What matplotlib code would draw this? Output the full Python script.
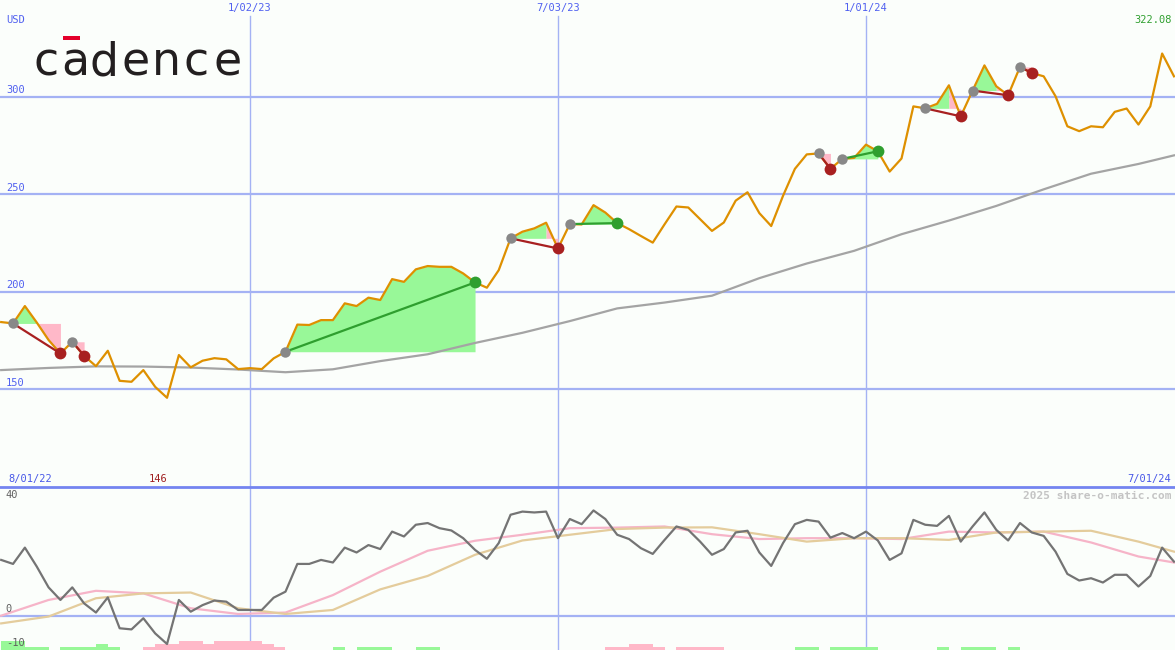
import numpy as np
import pandas as pd
import matplotlib
matplotlib.use('Agg')
import matplotlib.pyplot as plt
import matplotlib.dates as mdates
from matplotlib.lines import Line2D
from matplotlib.patches import Rectangle

# Недельные цены закрытия, с 8/08/22 по 7/01/24
close = [184.5, 183.8, 192.7, 184.3, 175.3, 168.4, 174.4, 167.2, 161.9, 169.8,
         154.4, 153.9, 159.9, 151.3, 145.7, 167.6, 161.3, 164.7, 166.0, 165.4,
         160.4, 160.9, 160.4, 165.9, 169.3, 183.2, 183.0, 185.5, 185.5, 194.1,
         192.7, 197.0, 195.8, 206.5, 205.1, 211.5, 213.2, 212.8, 212.8, 209.4,
         204.8, 202.1, 211.1, 227.4, 230.8, 232.5, 235.4, 222.2, 234.7, 234.5,
         244.4, 240.6, 235.2, 232.1, 228.6, 225.2, 234.6, 243.7, 243.2, 237.2,
         231.2, 235.5, 246.7, 251.0, 240.3, 233.7, 249.2, 263.0, 270.4, 270.9,
         263.0, 268.1, 268.6, 275.4, 272.0, 261.6, 268.3, 295.0, 294.0, 296.3,
         305.8, 289.9, 303.1, 316.0, 305.3, 300.7, 315.2, 312.1, 310.4, 300.2,
         284.8, 282.3, 284.8, 284.3, 292.2, 293.9, 285.7, 295.0, 322.08, 310.4]

# Длинная скользящая средняя (снята через каждые 4 недели + последняя точка)
ma_weeks = list(range(0, 100, 4)) + [99]
ma_long = [159.9, 161.0, 161.8, 161.7, 161.2, 160.2, 158.8, 160.3, 164.5, 168.0,
           173.8, 179.0, 185.0, 191.5, 194.5, 198.0, 207.0, 214.5, 221.0, 229.5,
           236.5, 244.0, 252.5, 260.5, 265.5, 269.9]

# Сделки: неделя входа и неделя выхода
trade_in = [1, 6, 24, 43, 48, 69, 71, 78, 82, 86]
trade_out = [5, 7, 40, 47, 52, 70, 74, 81, 85, 87]

# Нижняя панель: осциллятор и его сглаживания
osc = [19.5, 18.1, 23.8, 17.2, 9.9, 5.5, 9.9, 4.3, 1.1, 6.4,
       -4.4, -4.8, -0.9, -6.2, -9.9, 5.5, 1.4, 3.7, 5.3, 4.9,
       2.0, 2.0, 2.0, 6.3, 8.4, 18.1, 18.1, 19.5, 18.6, 23.8,
       22.1, 24.7, 23.3, 29.4, 27.7, 31.8, 32.4, 30.6, 29.8, 27.1,
       23.0, 19.9, 25.4, 35.3, 36.4, 36.1, 36.4, 27.1, 33.8, 32.0,
       36.8, 33.8, 28.3, 26.8, 23.6, 21.6, 26.5, 31.2, 30.0, 25.9,
       21.3, 23.3, 29.1, 29.7, 22.1, 17.4, 25.4, 32.0, 33.5, 32.9,
       27.3, 28.9, 27.1, 29.4, 26.3, 19.5, 21.8, 33.5, 31.8, 31.4,
       34.9, 25.9, 31.2, 36.1, 30.0, 26.3, 32.4, 29.1, 27.9, 22.4,
       14.6, 12.3, 13.1, 11.6, 14.3, 14.3, 10.2, 13.9, 23.8, 18.9]
osc_fast = [0.0, 5.5, 8.7, 7.8, 2.6, 0.6, 1.1, 7.2, 15.4, 22.7,
            26.2, 28.3, 30.6, 30.8, 31.2, 28.5, 26.8, 27.1, 27.1, 26.8,
            29.4, 29.1, 29.4, 25.6, 20.7, 18.6]
osc_slow = [-2.7, -0.3, 6.1, 7.8, 8.1, 2.6, 0.6, 2.0, 9.2, 13.9,
            21.3, 26.3, 28.3, 30.3, 30.8, 30.9, 28.5, 25.9, 27.1, 27.1,
            26.5, 29.1, 29.4, 29.7, 25.9, 22.4]

# Сигнальные столбики внизу (знак = цвет, модуль = высота)
signal = [3, 3, 1, 1, 0, 1, 1, 1, 2, 1,
          0, 0, -1, -2, -2, -3, -3, -2, -3, -3,
          -3, -3, -2, -1, 0, 0, 0, 0, 1, 0,
          1, 1, 1, 0, 0, 1, 1, 0, 0, 0,
          0, 0, 0, 0, 0, 0, 0, 0, 0, 0,
          0, -1, -1, -2, -2, -1, 0, -1, -1, -1,
          -1, 0, 0, 0, 0, 0, 0, 1, 1, 0,
          1, 1, 1, 1, 0, 0, 0, 0, 0, 1,
          0, 1, 1, 1, 0, 1, 0, 0, 0, 0,
          0, 0, 0, 0, 0, 0, 0, 0, 0, 0]

price_levels = [150, 200, 250, 300]
date_marks = ['2023-01-02', '2023-07-03', '2024-01-01']
date_labels = ['1/02/23', '7/03/23', '1/01/24']

# Цвета
BG = '#fbfefb'
BLUE_TXT = '#5060f0'
GRID = '#a4b2f4'
ORANGE = '#de9000'
GREEN_FILL = '#98f898'
PINK_FILL = '#ffb8c8'
LOSS = '#a82020'
WIN = '#2f9f2f'

weeks = pd.date_range('2022-08-08', periods=len(close), freq='7D')
xn = mdates.date2num(weeks)
price = np.array(close)
mono = 'DejaVu Sans Mono'

fig = plt.figure(figsize=(11.75, 6.5), dpi=100, facecolor=BG)
ax = fig.add_axes([0, 163 / 650, 1, 487 / 650], facecolor=BG)
ax2 = fig.add_axes([0, 0, 1, 163 / 650], facecolor=BG)

for a in (ax, ax2):
    a.set_xlim(xn[0] - 0.7, xn[-1] + 0.6)
    a.set_xticks([])
    a.set_yticks([])
    for s in a.spines.values():
        s.set_visible(False)
ax.set_ylim(100, 349.5)
ax2.set_ylim(-12, 45)

# Сетка верхней панели
for lv in price_levels:
    ax.axhline(lv, color=GRID, lw=1.6, zorder=1)
    ax.text(0.005, lv + 0.8, str(lv), transform=ax.get_yaxis_transform(),
            color=BLUE_TXT, fontsize=7.5, family=mono, va='bottom', ha='left')
for d, lab in zip(date_marks, date_labels):
    dn = mdates.date2num(pd.Timestamp(d))
    ax.axvline(dn, ymax=1 - 16 / 487, color=GRID, lw=1, zorder=1)
    ax2.axvline(dn, color=GRID, lw=1, zorder=1)
    ax.text(dn, 1 - 8 / 487, lab, transform=ax.get_xaxis_transform(),
            color=BLUE_TXT, fontsize=7.5, family=mono, ha='center', va='center')

# Заливки сделок: цвет сегмента по его концу относительно цены входа,
# одинаковые соседние сегменты сливаются в одну заливку
for i0, i1 in zip(trade_in, trade_out):
    entry = price[i0]
    start = i0
    for k in range(i0, i1):
        col = GREEN_FILL if price[k + 1] >= entry else PINK_FILL
        last = k + 1 == i1
        nxt = None if last else (GREEN_FILL if price[k + 2] >= entry else PINK_FILL)
        if last or nxt != col:
            seg = slice(start, k + 2)
            ax.fill_between(xn[seg], price[seg], entry, color=col, lw=0, zorder=2)
            start = k + 1

ax.plot(xn[ma_weeks], ma_long, color='#a4a4a4', lw=1.6, zorder=3)
ax.plot(xn, price, color=ORANGE, lw=1.6, zorder=4)

# Линии и точки сделок
for i0, i1 in zip(trade_in, trade_out):
    won = price[i1] > price[i0]
    col = WIN if won else LOSS
    ax.plot(xn[[i0, i1]], price[[i0, i1]], color=col, lw=1.6, zorder=5)
    ax.plot(xn[i0], price[i0], 'o', color='#888888', ms=7.5, mec='none', zorder=6)
    ax.plot(xn[i1], price[i1], 'o', color=col, ms=8.5, mec='none', zorder=6)

# Подписи верхней панели
ax.text(0.005, 1 - 20 / 487, 'USD', transform=ax.transAxes, color=BLUE_TXT,
        fontsize=7.5, family=mono, va='center', ha='left')
ax.text(0.997, 1 - 20 / 487, f'{max(close):.2f}', transform=ax.transAxes,
        color='#30a030', fontsize=7.5, family=mono, va='center', ha='right')
ax.text(xn[int(np.argmin(price))], 8 / 487, f'{min(close):.0f}',
        transform=ax.get_xaxis_transform(), color='#a02020', fontsize=7.5,
        family=mono, va='center', ha='right')
ax.text(0.007, 8 / 487, '8/01/22', transform=ax.transAxes, color='#4858e8',
        fontsize=7.5, family=mono, va='center', ha='left')
ax.text(0.997, 8 / 487, '7/01/24', transform=ax.transAxes, color='#4858e8',
        fontsize=7.5, family=mono, va='center', ha='right')

# Нижняя панель
ax2.axhline(0, color=GRID, lw=1.6, zorder=1)
sig = np.array(signal)
ax2.bar(xn, np.abs(sig) * 1.05, width=7, align='edge', bottom=-12,
        color=np.where(sig > 0, GREEN_FILL, PINK_FILL), lw=0, zorder=2)
ax2.plot(xn[ma_weeks], osc_fast, color='#f6b4c8', lw=1.6, zorder=3)
ax2.plot(xn[ma_weeks], osc_slow, color='#e4cc9c', lw=1.6, zorder=3)
ax2.plot(xn, osc, color='#747474', lw=1.6, zorder=4)

for v, lab in [(40, '40'), (0, '0')]:
    ax2.text(0.005, v + 0.6, lab, transform=ax2.get_yaxis_transform(),
             color='#606060', fontsize=7.5, family=mono, va='bottom', ha='left')
ax2.text(0.005, -9.6, '-10', transform=ax2.get_yaxis_transform(),
         color='#606060', fontsize=7.5, family=mono, va='center', ha='left',
         zorder=5)
ax2.text(0.997, 1 - 9 / 163, '2025 share-o-matic.com', transform=ax2.transAxes,
         color='#c4c4c4', fontsize=8, family=mono, weight='bold',
         va='center', ha='right')

# Разделитель панелей
fig.add_artist(Line2D([0, 1], [163 / 650, 163 / 650], color='#7484f0', lw=2))

# Логотип: буквы по отдельности, как в оригинале с широкой разрядкой
logo_x = [33, 61, 89, 122, 152, 183, 213]
for ch, px in zip('cadence', logo_x):
    fig.text(px / 1175, 1 - 75 / 650, ch, color='#231f20', fontsize=33,
             family='DejaVu Sans', va='baseline', ha='left')
fig.add_artist(Rectangle((63 / 1175, 1 - 40 / 650), 17 / 1175, 4 / 650,
                         transform=fig.transFigure, color='#e4002b', lw=0))

fig.savefig('out.png', dpi=100, facecolor=BG)
